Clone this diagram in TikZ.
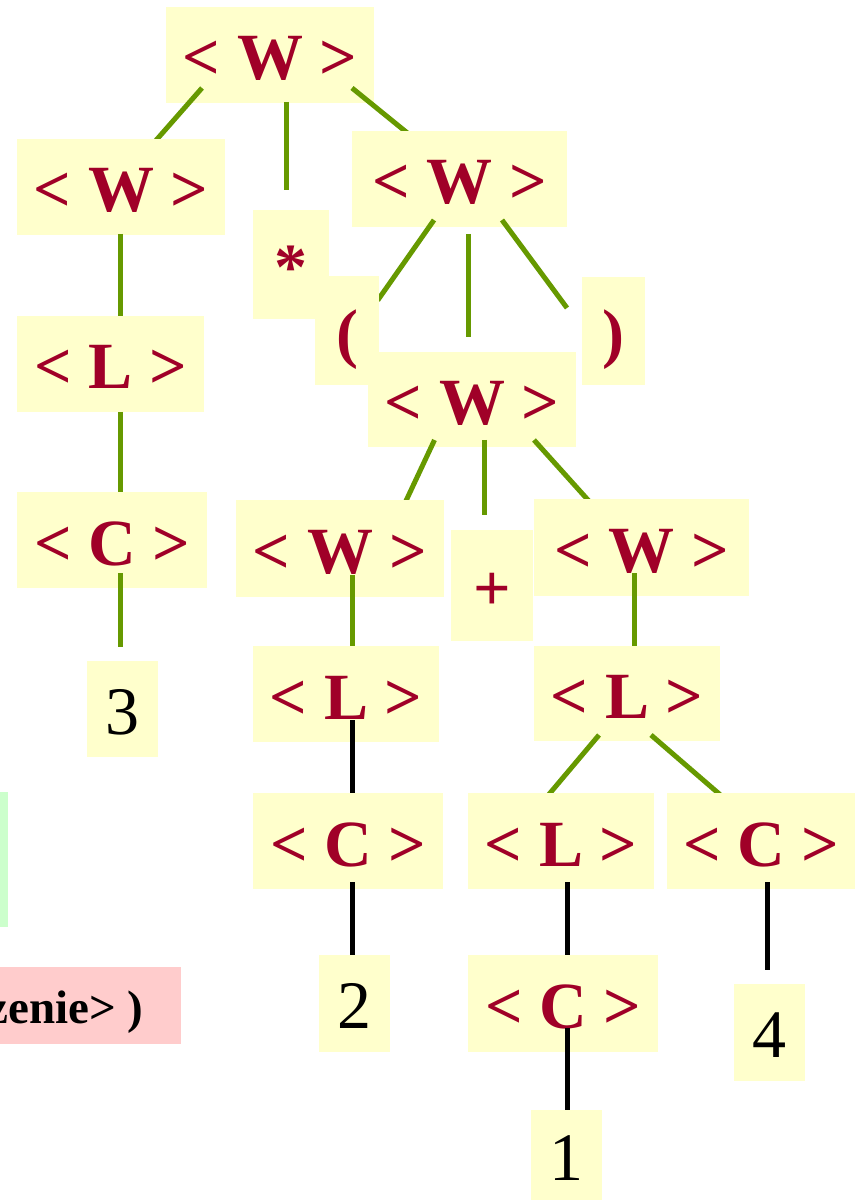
\documentclass[tikz,border=0pt]{standalone}
\usepackage{fontspec}
\setmainfont{Liberation Serif}
\usetikzlibrary{calc}
\definecolor{boxyellow}{HTML}{FFFFCC}
\definecolor{wred}{HTML}{A00028}
\definecolor{lgreen}{HTML}{669900}
\definecolor{pinkc}{HTML}{FFCCCC}
\definecolor{greenc}{HTML}{CCFFCC}
\pgfdeclarelayer{b0}\pgfdeclarelayer{e0}\pgfdeclarelayer{b1}\pgfdeclarelayer{e1}
\pgfdeclarelayer{b2}\pgfdeclarelayer{e2}\pgfdeclarelayer{b3}\pgfdeclarelayer{e3}
\pgfdeclarelayer{b4}\pgfdeclarelayer{e4}\pgfdeclarelayer{b5}\pgfdeclarelayer{e5}
\pgfdeclarelayer{b6}\pgfdeclarelayer{e6}\pgfdeclarelayer{b7}
\pgfsetlayers{b0,e0,b1,e1,b2,e2,b3,e3,b4,e4,b5,e5,b6,e6,b7,main}
\tikzset{
  lbl/.style={fill=boxyellow, inner sep=0pt, text height=25pt, text depth=0pt,
    text=wred, font=\fontsize{33}{40}\selectfont\bfseries},
  num/.style={fill=boxyellow, inner sep=0pt, text height=25pt, text depth=0pt,
    text=black, font=\fontsize{34}{40}\selectfont},
  gline/.style={draw=lgreen, line width=2.5pt},
  bline/.style={draw=black, line width=2.5pt},
}
\begin{document}
\begin{tikzpicture}[x=0.5pt,y=-0.5pt]
\useasboundingbox (0,0) rectangle (855,1202);
% ---------- boxes ----------
\begin{pgfonlayer}{b0}
\node[lbl, minimum width=104pt, minimum height=48pt] (tW) at (270,55) {< W >};
\end{pgfonlayer}
\begin{pgfonlayer}{b1}
\node[lbl, minimum width=104pt, minimum height=48pt] (lW) at (121,187) {< W >};
\node[lbl, minimum width=38pt, minimum height=54.5pt] (star) at (291,264.5) {*};
\node[lbl, minimum width=107.5pt, minimum height=48pt] (rW) at (459.5,179) {< W >};
\end{pgfonlayer}
\begin{pgfonlayer}{b2}
\node[lbl, minimum width=93.5pt, minimum height=48pt] (lL) at (110.5,364) {< L >};
\node[lbl, minimum width=32pt, minimum height=54.5pt] (lp) at (347,330.5) {(};
\node[lbl, minimum width=104pt, minimum height=47.5pt] (mW) at (472,399.5) {< W >};
\node[lbl, minimum width=31.5pt, minimum height=54pt] (rp) at (613.5,331) {)};
\end{pgfonlayer}
\begin{pgfonlayer}{b3}
\node[lbl, minimum width=95pt, minimum height=48pt] (lC) at (112,540) {< C >};
\node[lbl, minimum width=104pt, minimum height=48.5pt] (w4l) at (340,548.5) {< W >};
\node[lbl, minimum width=41pt, minimum height=55.5pt] (plus) at (492,585.5) {+};
\node[lbl, minimum width=107.5pt, minimum height=48.5pt] (w4r) at (641.5,547.5) {< W >};
\end{pgfonlayer}
\begin{pgfonlayer}{b4}
\node[num, minimum width=35.5pt, minimum height=48pt] (n3) at (122.5,709) {3};
\node[lbl, minimum width=93pt, minimum height=48pt] (l5l) at (346,694) {< L >};
\node[lbl, minimum width=93pt, minimum height=47.5pt] (l5r) at (627,693.5) {< L >};
\end{pgfonlayer}
\begin{pgfonlayer}{b5}
\node[lbl, minimum width=95pt, minimum height=48pt] (c6l) at (348,841) {< C >};
\node[lbl, minimum width=93pt, minimum height=48pt] (l6r) at (561,841) {< L >};
\node[lbl, minimum width=94pt, minimum height=48pt] (c6r) at (761,841) {< C >};
\end{pgfonlayer}
\begin{pgfonlayer}{b6}
\node[num, minimum width=35.5pt, minimum height=48.5pt] (n2) at (354.5,1003.5) {2};
\node[lbl, minimum width=95pt, minimum height=48.5pt] (c7) at (563,1003.5) {< C >};
\node[num, minimum width=35.5pt, minimum height=48.5pt] (n4) at (769.5,1032.5) {4};
\end{pgfonlayer}
\begin{pgfonlayer}{b7}
\node[num, minimum width=35.5pt, minimum height=45pt] (n1) at (566.5,1155) {1};
\end{pgfonlayer}
% side boxes
\node[fill=greenc, inner sep=0pt, minimum width=4pt, minimum height=67.5pt] (gstrip) at (4,859.5) {};
\node[fill=pinkc, inner sep=0pt, minimum width=90.5pt, minimum height=38.5pt] (pbox) at (90.5,1005.5) {};
\node[anchor=base east, inner sep=0pt, font=\fontsize{23.5}{28}\selectfont\bfseries] (ptext) at (144,1023) {zenie> )};
% ---------- connectors ----------
\begin{pgfonlayer}{e0}
\draw[gline] ($(tW)+(-68,33)$) -- ($(lW)+(34,-45.5)$);
\draw[gline] ($(tW)+(16,47)$) -- ($(star)+(-5,-74.5)$);
\draw[gline] ($(tW)+(82,33)$) -- ($(rW)+(-51.5,-45.5)$);
\end{pgfonlayer}
\begin{pgfonlayer}{e1}
\draw[gline] ($(lW)+(-1,47)$) -- ($(lL)+(9.5,-48)$);
\draw[gline] ($(rW)+(-25.5,41)$) -- ($(lp)+(30.7,-30.2)$);
\draw[gline] ($(rW)+(8.5,55)$) -- ($(mW)+(-4,-62.5)$);
\draw[gline] ($(rW)+(42.5,41)$) -- ($(rp)+(-46.5,-23)$);
\end{pgfonlayer}
\begin{pgfonlayer}{e2}
\draw[gline] ($(lL)+(9.5,48)$) -- ($(lC)+(8,-48)$);
\draw[gline] ($(mW)+(-37.5,40.5)$) -- ($(w4l)+(64.7,-44.9)$);
\draw[gline] ($(mW)+(12.5,40.5)$) -- ($(plus)+(-7.5,-70.5)$);
\draw[gline] ($(mW)+(62,40.5)$) -- ($(w4r)+(-50.8,-44.5)$);
\end{pgfonlayer}
\begin{pgfonlayer}{e3}
\draw[gline] ($(lC)+(8,33)$) -- ($(n3)+(-2.5,-62)$);
\draw[gline] ($(w4l)+(12,26.5)$) -- ($(l5l)+(6,-48)$);
\draw[gline] ($(w4r)+(-7.5,25.5)$) -- ($(l5r)+(7,-47.5)$);
\end{pgfonlayer}
\begin{pgfonlayer}{e4}
\draw[bline] ($(l5l)+(6,26)$) -- ($(c6l)+(4,-48)$);
\draw[gline] ($(l5r)+(-28,41.5)$) -- ($(l6r)+(-12.6,-46)$);
\draw[gline] ($(l5r)+(24,41.5)$) -- ($(c6r)+(-41,-46.4)$);
\end{pgfonlayer}
\begin{pgfonlayer}{e5}
\draw[bline] ($(c6l)+(4,41)$) -- ($(n2)+(-2.5,-48.5)$);
\draw[bline] ($(l6r)+(6,41)$) -- ($(c7)+(4,-48.5)$);
\draw[bline] ($(c6r)+(6,41)$) -- ($(n4)+(-2.5,-62.5)$);
\end{pgfonlayer}
\begin{pgfonlayer}{e6}
\draw[bline] ($(c7)+(4,24.5)$) -- ($(n1)+(0.5,-45)$);
\end{pgfonlayer}
\end{tikzpicture}
\end{document}
